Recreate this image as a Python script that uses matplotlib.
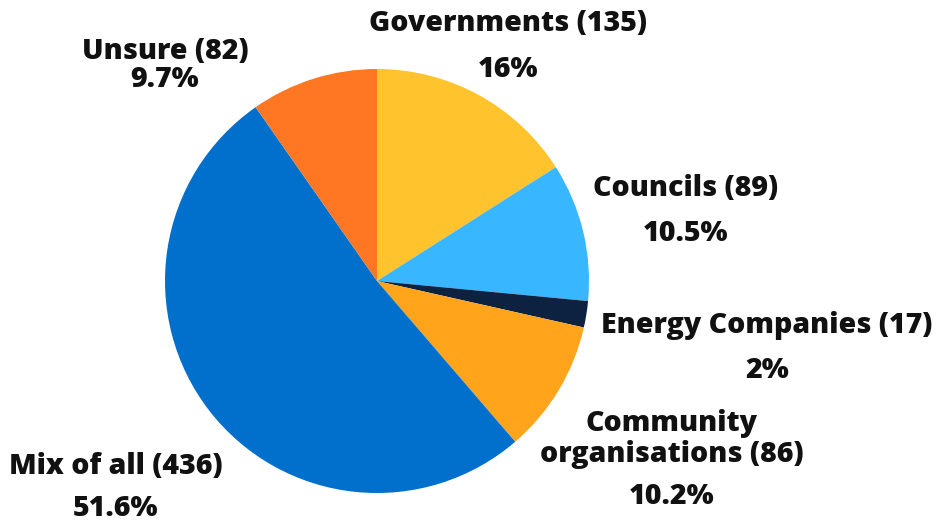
import matplotlib.pyplot as plt

# answers to "who should lead" style question
labels = ["Governments (135)", "Councils (89)", "Energy Companies (17)",
          "Community\norganisations (86)", "Mix of all (436)", "Unsure (82)"]
counts = [135, 89, 17, 86, 436, 82]
pct_labels = ["16%", "10.5%", "2%", "10.2%", "51.6%", "9.7%"]
colors = ["#FFC32E", "#38B6FF", "#0D2240", "#FFA41B", "#0070CC", "#FF7722"]

plt.rcParams['font.family'] = ['Open Sans', 'DejaVu Sans']

W, H = 937, 521
fig = plt.figure(figsize=(W / 100, H / 100), dpi=100)
ax = fig.add_axes([0, 0, 1, 1])

ax.pie(counts, colors=colors, startangle=90, counterclock=False,
       center=(377, H - 281), radius=212, frame=True,
       wedgeprops=dict(linewidth=0))
ax.set_xlim(0, W)
ax.set_ylim(0, H)
ax.set_aspect('equal')
ax.axis('off')

# label positions in pixels (x, y of name, y of percent)
pos = [(508, 23, 69), (686, 188, 233), (767, 325, 370),
       (672, 439, 497), (116, 467, 508), (165, 51, 79)]

for lab, pct, (x, yl, yp) in zip(labels, pct_labels, pos):
    ax.text(x, H - yl, lab, ha='center', va='center', fontsize=20.5,
            fontweight='heavy', linespacing=1.05, color='#111111')
    ax.text(x, H - yp, pct, ha='center', va='center', fontsize=20.5,
            fontweight='heavy', color='#111111')

fig.savefig("out.png", dpi=100)
